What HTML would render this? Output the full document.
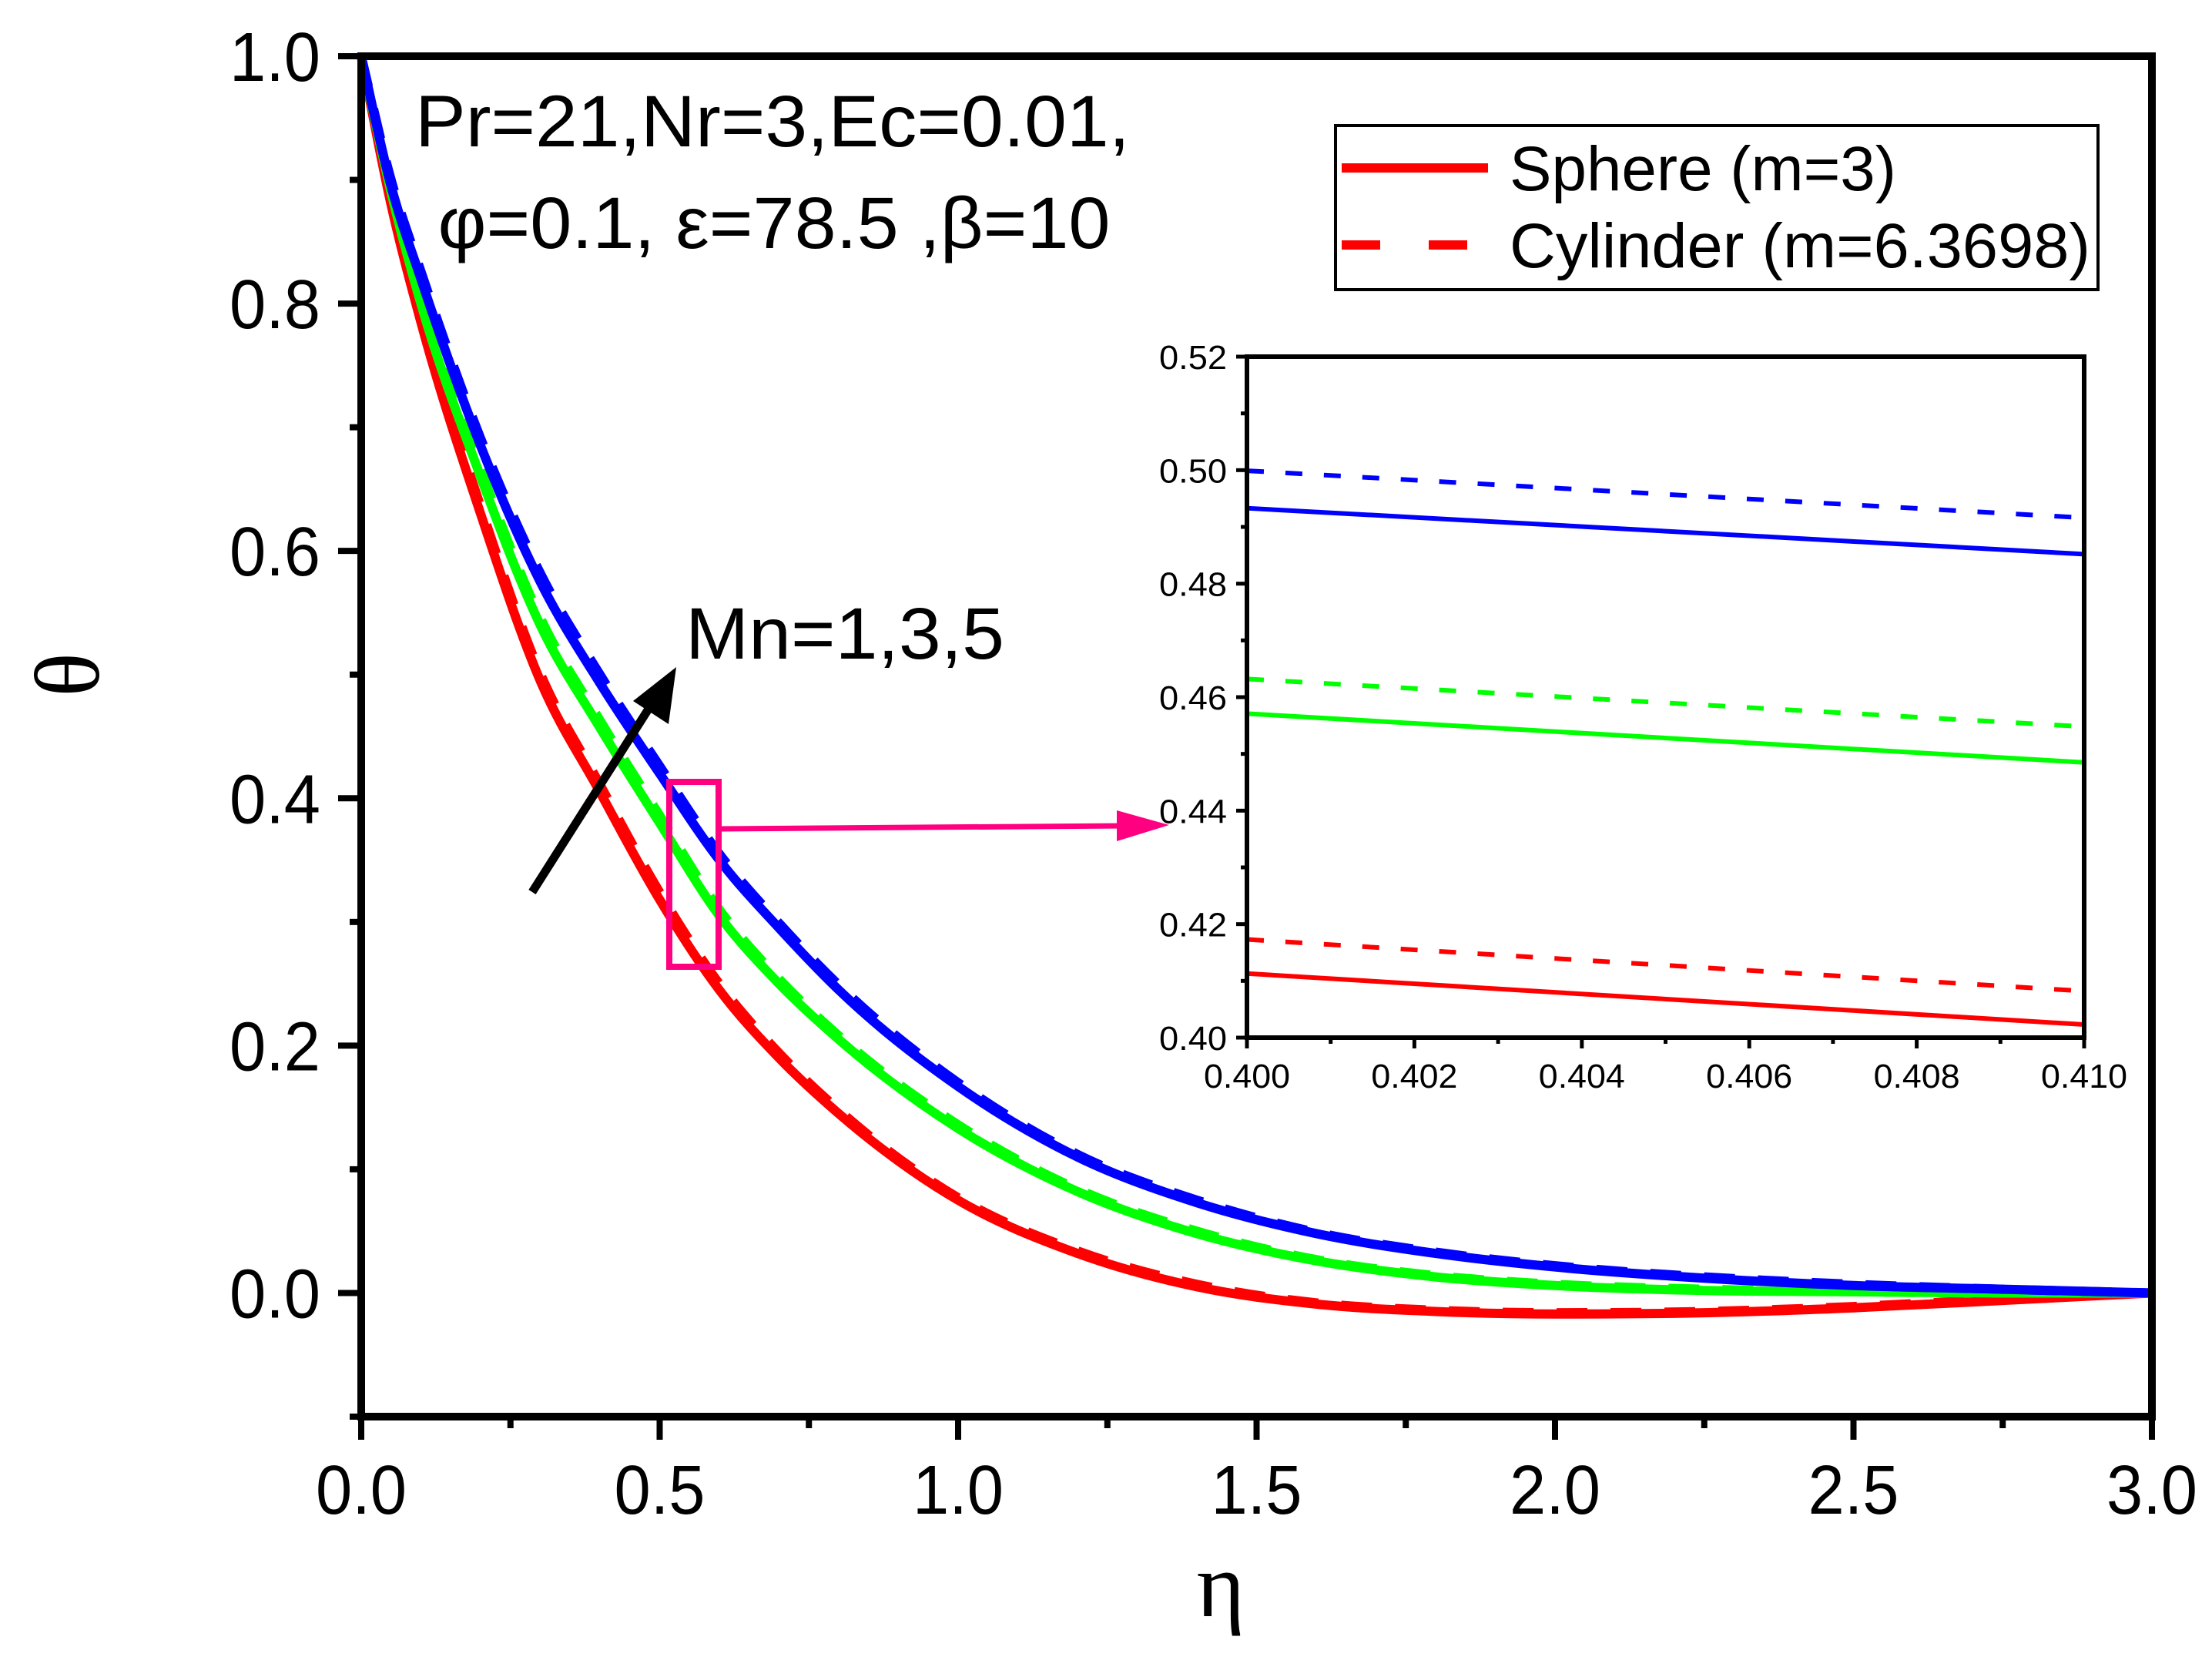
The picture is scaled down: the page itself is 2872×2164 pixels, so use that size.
<!DOCTYPE html>
<html><head><meta charset="utf-8"><style>
html,body{margin:0;padding:0;background:#fff;}
svg{display:block;}
text{font-family:"Liberation Sans",sans-serif;fill:#000;}
</style></head>
<body>
<svg id="chart" width="2872" height="2164" viewBox="0 0 2872 2164" xmlns="http://www.w3.org/2000/svg">
<rect x="0" y="0" width="2872" height="2164" fill="#fff"/>
<g id="main-curves"></g>
<g id="main-axes"></g>
<text x="1003" y="190" font-size="95" textLength="928" lengthAdjust="spacingAndGlyphs" text-anchor="middle">Pr=21,Nr=3,Ec=0.01,</text>
<text x="1005" y="322" font-size="95" textLength="873" lengthAdjust="spacingAndGlyphs" text-anchor="middle">φ=0.1, ε=78.5 ,β=10</text>
<text x="1097" y="855" font-size="95" textLength="414" lengthAdjust="spacingAndGlyphs" text-anchor="middle">Mn=1,3,5</text>
<g>
<line x1="691" y1="1158" x2="846" y2="914" stroke="#000" stroke-width="11"/>
<polygon points="878,866 868,940 822,910" fill="#000"/>
</g>
<rect x="869" y="1015" width="64" height="240" fill="none" stroke="#ff0080" stroke-width="8"/>
<g>
<line x1="933" y1="1076" x2="1460" y2="1072" stroke="#ff0080" stroke-width="7"/>
<polygon points="1518,1071 1450,1052 1450,1092" fill="#ff0080"/>
</g>
<g>
<rect x="1734" y="163" width="990" height="213" fill="#fff" stroke="#000" stroke-width="4"/>
<line x1="1742" y1="218" x2="1932" y2="218" stroke="#ff0000" stroke-width="12"/>
<text x="1960" y="247" font-size="82" textLength="502" lengthAdjust="spacingAndGlyphs">Sphere (m=3)</text>
<line x1="1742" y1="318" x2="1932" y2="318" stroke="#ff0000" stroke-width="12" stroke-dasharray="50 63"/>
<text x="1960" y="347" font-size="82" textLength="754" lengthAdjust="spacingAndGlyphs">Cylinder (m=6.3698)</text>
</g>
<g id="inset"></g>
<text x="1585" y="2098" font-size="120" text-anchor="middle" style="font-family:'Liberation Serif',serif">η</text>
<text x="0" y="0" font-size="120" text-anchor="middle" style="font-family:'Liberation Serif',serif" transform="translate(128,876) rotate(-90)">θ</text>
</svg>
<script>
// ---- main chart data ----
const etaPoints = [0,0.05,0.1,0.2,0.3,0.4,0.5,0.6,0.7,0.8,1.0,1.2,1.4,1.6,1.8,2.0,2.25,2.5,2.75,3.0];
const sphereMn1 = [1,0.88,0.785,0.63,0.495,0.405,0.318,0.245,0.19,0.145,0.075,0.032,0.005,-0.009,-0.015,-0.017,-0.016,-0.012,-0.006,0];
const cylMn1    = [1,0.885,0.791,0.636,0.501,0.411,0.324,0.25,0.194,0.148,0.077,0.034,0.007,-0.008,-0.014,-0.016,-0.015,-0.011,-0.005,0];
const sphereMn3 = [1,0.89,0.80,0.66,0.54,0.457,0.38,0.305,0.25,0.205,0.133,0.082,0.048,0.026,0.013,0.006,0.002,0.001,0,0];
const cylMn3    = [1,0.895,0.806,0.666,0.546,0.463,0.386,0.31,0.254,0.208,0.136,0.084,0.05,0.027,0.014,0.007,0.003,0.001,0,0];
const sphereMn5 = [1,0.895,0.82,0.685,0.575,0.493,0.42,0.35,0.295,0.245,0.167,0.11,0.073,0.048,0.032,0.021,0.012,0.006,0.003,0];
const cylMn5    = [1,0.9,0.826,0.691,0.582,0.5,0.426,0.355,0.299,0.249,0.17,0.112,0.075,0.049,0.033,0.022,0.013,0.007,0.003,0];
const xTicks = ["0.0","0.5","1.0","1.5","2.0","2.5","3.0"];
const yTicks = ["0.0","0.2","0.4","0.6","0.8","1.0"];
// ---- inset data ----
const insetX = [0.400, 0.410];
const insetSphereMn1 = [0.4113, 0.4023];
const insetCylMn1    = [0.4173, 0.4082];
const insetSphereMn3 = [0.4571, 0.4485];
const insetCylMn3    = [0.4632, 0.4548];
const insetSphereMn5 = [0.4933, 0.4852];
const insetCylMn5    = [0.4999, 0.4916];
const insetXTicks = ["0.400","0.402","0.404","0.406","0.408","0.410"];
const insetYTicks = ["0.40","0.42","0.44","0.46","0.48","0.50","0.52"];

const NS="http://www.w3.org/2000/svg";
function mk(tag, attrs, parent){const e=document.createElementNS(NS,tag);for(const k in attrs)e.setAttribute(k,attrs[k]);parent.appendChild(e);return e;}

const X0=469,X1=2794,Y0=73,Y1=1839;
const xMin=0,xMax=3,yMin=-0.1,yMax=1.0;
function sx(v){return X0+(v-xMin)/(xMax-xMin)*(X1-X0);}
function sy(v){return Y1-(v-yMin)/(yMax-yMin)*(Y1-Y0);}

function smoothPath(xs,ys,fx,fy){
  const p=xs.map((x,i)=>[fx(x),fy(ys[i])]);
  const n=p.length, m=[];
  for(let i=0;i<n;i++){
    if(i===0) m.push((p[1][1]-p[0][1])/(p[1][0]-p[0][0]));
    else if(i===n-1) m.push((p[n-1][1]-p[n-2][1])/(p[n-1][0]-p[n-2][0]));
    else {
      const d0=(p[i][1]-p[i-1][1])/(p[i][0]-p[i-1][0]), d1=(p[i+1][1]-p[i][1])/(p[i+1][0]-p[i][0]);
      const h0=p[i][0]-p[i-1][0], h1=p[i+1][0]-p[i][0];
      m.push(d0*d1<=0?0:(h0*d1+h1*d0)/(h0+h1));
    }
  }
  let d="M"+p[0][0].toFixed(1)+","+p[0][1].toFixed(1);
  for(let i=0;i<n-1;i++){
    const h=p[i+1][0]-p[i][0];
    d+=" C"+(p[i][0]+h/3).toFixed(1)+","+(p[i][1]+m[i]*h/3).toFixed(1)+" "+(p[i+1][0]-h/3).toFixed(1)+","+(p[i+1][1]-m[i+1]*h/3).toFixed(1)+" "+p[i+1][0].toFixed(1)+","+p[i+1][1].toFixed(1);
  }
  return d;
}
const curves=document.getElementById('main-curves');
const series=[
 ["curve-sphere-mn1",sphereMn1,"#ff0000",false],
 ["curve-cylinder-mn1",cylMn1,"#ff0000",true],
 ["curve-sphere-mn3",sphereMn3,"#00ff00",false],
 ["curve-cylinder-mn3",cylMn3,"#00ff00",true],
 ["curve-sphere-mn5",sphereMn5,"#0000ff",false],
 ["curve-cylinder-mn5",cylMn5,"#0000ff",true]
];
series.forEach(s=>{
  const el=mk('path',{d:smoothPath(etaPoints,s[1],sx,sy),fill:"none",stroke:s[2],"stroke-width":12},curves);
  if(s[3]) el.setAttribute('stroke-dasharray','40 30');
  
  
});

const ax=document.getElementById('main-axes');
const frame=mk('rect',{x:X0,y:Y0,width:X1-X0,height:Y1-Y0,fill:"none",stroke:"#000","stroke-width":10},ax);


xTicks.forEach(t=>{
  const v=parseFloat(t),x=sx(v);
  const tk=mk('line',{x1:x,y1:Y1,x2:x,y2:Y1+30,stroke:"#000","stroke-width":8},ax);
  
  
  const lb=mk('text',{x:x,y:1965,"font-size":90,"text-anchor":"middle",textLength:118,lengthAdjust:"spacingAndGlyphs"},ax);
  lb.textContent=t;
  
  
  if(v<3){const mx=sx(v+0.25);
    const mt=mk('line',{x1:mx,y1:Y1,x2:mx,y2:Y1+15,stroke:"#000","stroke-width":8},ax);
    
    }
});
yTicks.forEach(t=>{
  const v=parseFloat(t),y=sy(v);
  const tk=mk('line',{x1:X0-30,y1:y,x2:X0,y2:y,stroke:"#000","stroke-width":8},ax);
  
  
  const lb=mk('text',{x:416,y:y+32,"font-size":90,"text-anchor":"end",textLength:118,lengthAdjust:"spacingAndGlyphs"},ax);
  lb.textContent=t;
  
  
  const my=sy(v-0.1);
  const mt=mk('line',{x1:X0-15,y1:my,x2:X0,y2:my,stroke:"#000","stroke-width":8},ax);
  
  
});

const I0=1619,I1=2706,J0=463,J1=1347;
const ixMin=0.400,ixMax=0.410,iyMin=0.40,iyMax=0.52;
function ix(v){return I0+(v-ixMin)/(ixMax-ixMin)*(I1-I0);}
function iy(v){return J1-(v-iyMin)/(iyMax-iyMin)*(J1-J0);}
const ins=document.getElementById('inset');
const ibg=mk('rect',{x:I0,y:J0,width:I1-I0,height:J1-J0,fill:"#fff",stroke:"none"},ins);


const iser=[
 ["inset-sphere-mn1",insetSphereMn1,"#ff0000",false],
 ["inset-cylinder-mn1",insetCylMn1,"#ff0000",true],
 ["inset-sphere-mn3",insetSphereMn3,"#00ff00",false],
 ["inset-cylinder-mn3",insetCylMn3,"#00ff00",true],
 ["inset-sphere-mn5",insetSphereMn5,"#0000ff",false],
 ["inset-cylinder-mn5",insetCylMn5,"#0000ff",true]
];
iser.forEach(s=>{
  const el=mk('line',{x1:ix(insetX[0]),y1:iy(s[1][0]),x2:ix(insetX[1]),y2:iy(s[1][1]),stroke:s[2],"stroke-width":6},ins);
  if(s[3]) el.setAttribute('stroke-dasharray','22 28');
  
  
});
const ifr=mk('rect',{x:I0,y:J0,width:I1-I0,height:J1-J0,fill:"none",stroke:"#000","stroke-width":6},ins);


insetXTicks.forEach((t,i)=>{
  const v=parseFloat(t),x=ix(v);
  const tk=mk('line',{x1:x,y1:J1,x2:x,y2:J1+14,stroke:"#000","stroke-width":5},ins);
  
  
  const lb=mk('text',{x:x,y:1412,"font-size":44,"text-anchor":"middle",textLength:112,lengthAdjust:"spacingAndGlyphs"},ins);
  lb.textContent=t;
  
  
  if(i<insetXTicks.length-1){const mx=ix(v+0.001);
    const mt=mk('line',{x1:mx,y1:J1,x2:mx,y2:J1+8,stroke:"#000","stroke-width":5},ins);
    
    }
});
insetYTicks.forEach((t,i)=>{
  const v=parseFloat(t),y=iy(v);
  const tk=mk('line',{x1:I0-14,y1:y,x2:I0,y2:y,stroke:"#000","stroke-width":5},ins);
  
  
  const lb=mk('text',{x:1593,y:y+16,"font-size":44,"text-anchor":"end",textLength:88,lengthAdjust:"spacingAndGlyphs"},ins);
  lb.textContent=t;
  
  
  if(i<insetYTicks.length-1){const my=iy(v+0.01);
    const mt=mk('line',{x1:I0-8,y1:my,x2:I0,y2:my,stroke:"#000","stroke-width":5},ins);
    
    }
});
</script>
</body></html>
